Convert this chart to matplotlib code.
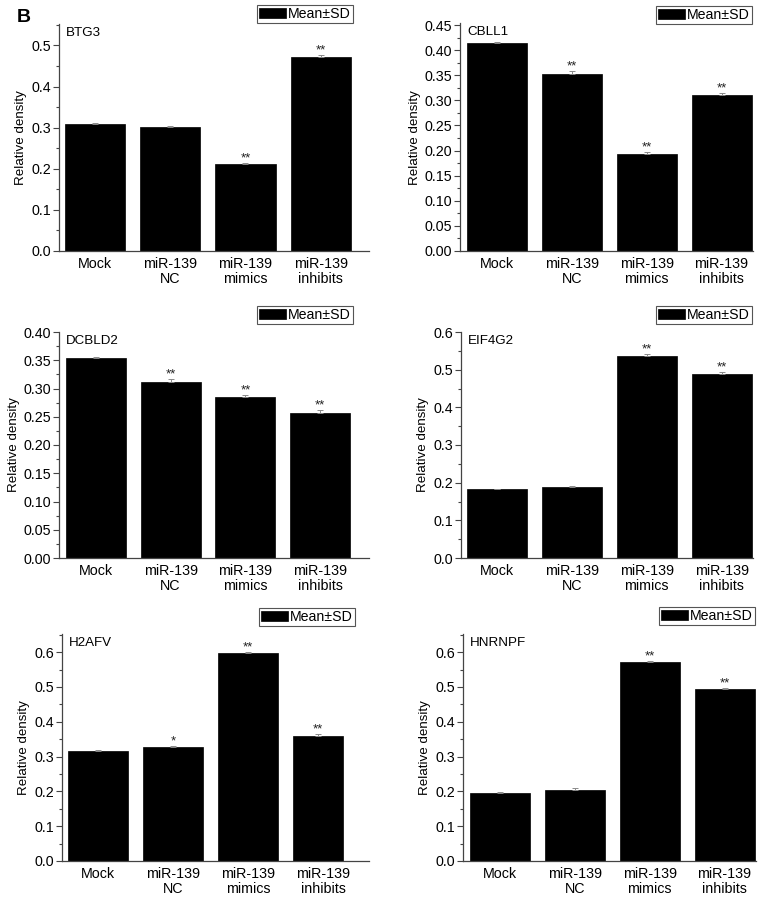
import numpy as np
import matplotlib.pyplot as plt
from matplotlib.ticker import MultipleLocator, AutoMinorLocator, FormatStrFormatter

plt.rcParams['font.family'] = ['Liberation Sans', 'DejaVu Sans']

groups = ['Mock', 'miR-139\nNC', 'miR-139\nmimics', 'miR-139\ninhibits']
genes = ['BTG3', 'CBLL1', 'DCBLD2', 'EIF4G2', 'H2AFV', 'HNRNPF']

# relative density, SD and significance marks per gene
btg3 = [0.310, 0.301, 0.211, 0.471]
btg3_sd = [0.001, 0.004, 0.003, 0.005]
btg3_sig = ['', '', '**', '**']

cbll1 = [0.4135, 0.353, 0.194, 0.311]
cbll1_sd = [0.002, 0.005, 0.004, 0.004]
cbll1_sig = ['', '**', '**', '**']

dcbld2 = [0.3545, 0.312, 0.285, 0.2565]
dcbld2_sd = [0.001, 0.004, 0.003, 0.005]
dcbld2_sig = ['', '**', '**', '**']

eif4g2 = [0.1835, 0.189, 0.535, 0.489]
eif4g2_sd = [0.001, 0.001, 0.007, 0.006]
eif4g2_sig = ['', '', '**', '**']

h2afv = [0.316, 0.327, 0.597, 0.360]
h2afv_sd = [0.002, 0.003, 0.003, 0.006]
h2afv_sig = ['', '*', '**', '**']

hnrnpf = [0.196, 0.204, 0.571, 0.494]
hnrnpf_sd = [0.002, 0.005, 0.003, 0.004]
hnrnpf_sig = ['', '', '**', '**']

values = [btg3, cbll1, dcbld2, eif4g2, h2afv, hnrnpf]
sds = [btg3_sd, cbll1_sd, dcbld2_sd, eif4g2_sd, h2afv_sd, hnrnpf_sd]
sigs = [btg3_sig, cbll1_sig, dcbld2_sig, eif4g2_sig, h2afv_sig, hnrnpf_sig]

# layout: axes box in pixels (left, right, top, bottom), axis limits, legend corner
W, H = 768, 899
boxes = [(58.7, 369, 24, 251), (460, 753, 23.3, 251),
         (59, 369, 332, 558), (461, 753, 332, 558),
         (62, 369, 634, 861), (463, 756, 634, 861)]
xlims = [(-0.48, 3.64), (-0.49, 3.42), (-0.49, 3.65),
         (-0.48, 3.42), (-0.48, 3.61), (-0.49, 3.42)]
ytops = [0.552, 0.4535, 0.40, 0.60, 0.652, 0.652]
ysteps = [0.1, 0.05, 0.05, 0.1, 0.1, 0.1]
yfmt = ['%.1f', '%.2f', '%.2f', '%.1f', '%.1f', '%.1f']
legpos = [(353, 5), (752, 6), (353, 306), (752, 306), (355, 608), (755, 607)]
widths = [[0.8] * 4] * 4 + [[0.8, 0.8, 0.8, 0.67], [0.8] * 4]

fs_tick = 10.3
fs_lab = 9.6
fs_leg = 10.2
fig = plt.figure(figsize=(W / 100, H / 100), dpi=100)

for k, gene in enumerate(genes):
    l, r, t, b = boxes[k]
    ax = fig.add_axes([l / W, 1 - b / H, (r - l) / W, (b - t) / H])
    x = np.arange(4)
    w = np.array(widths[k])
    left = x - 0.4
    centers = left + w / 2
    bars = ax.bar(left, values[k], width=w, align='edge', color='black',
                  edgecolor='black', linewidth=0.5, label='Mean\u00b1SD', zorder=2)
    err = np.array(sds[k])
    ax.errorbar(centers, values[k], yerr=[np.zeros(4), err], fmt='none',
                ecolor='#8a8a8a', elinewidth=0.7, capsize=2.2, capthick=0.7, zorder=3)
    for c, v, e, s in zip(centers, values[k], err, sigs[k]):
        if s:
            ax.annotate(s, (c, v + e), xytext=(0, -1.0), textcoords='offset points',
                        ha='center', va='bottom', fontsize=9.5, color='#222222')

    ax.set_xlim(*xlims[k])
    ax.set_ylim(0, ytops[k])
    ax.set_xticks(x)
    ax.set_xticklabels(groups, fontsize=fs_tick, linespacing=1.15)
    ax.tick_params(axis='x', length=0, pad=4)
    ax.yaxis.set_major_locator(MultipleLocator(ysteps[k]))
    ax.yaxis.set_minor_locator(AutoMinorLocator(2))
    ax.yaxis.set_major_formatter(FormatStrFormatter(yfmt[k]))
    ax.tick_params(axis='y', which='major', direction='out', length=4, width=0.8,
                   labelsize=fs_tick, pad=1.5, color='#444444')
    ax.tick_params(axis='y', which='minor', direction='out', length=2, width=0.8,
                   color='#444444')
    for side in ['top', 'right']:
        ax.spines[side].set_visible(False)
    for side in ['left', 'bottom']:
        ax.spines[side].set_color('#444444')
        ax.spines[side].set_linewidth(0.9)
    ax.set_ylabel('Relative density', fontsize=fs_lab, labelpad=3)

    ax.text(7 / (r - l), 1 - 3 / (b - t), gene, transform=ax.transAxes,
            ha='left', va='top', fontsize=fs_lab)

    lx, ly = legpos[k]
    ax.legend(handles=[bars], loc='upper right', bbox_to_anchor=(lx / W, 1 - ly / H),
              bbox_transform=fig.transFigure, fontsize=fs_leg, frameon=True,
              fancybox=False, edgecolor='#555555', framealpha=1, borderpad=0.15,
              borderaxespad=0, handlelength=1.9, handleheight=0.72,
              handletextpad=0.15).get_frame().set_linewidth(0.8)

fig.text(17 / W, 1 - 17.5 / H, 'B', fontsize=14, fontweight='bold',
         ha='left', va='center')

fig.savefig('out.png', dpi=100)
